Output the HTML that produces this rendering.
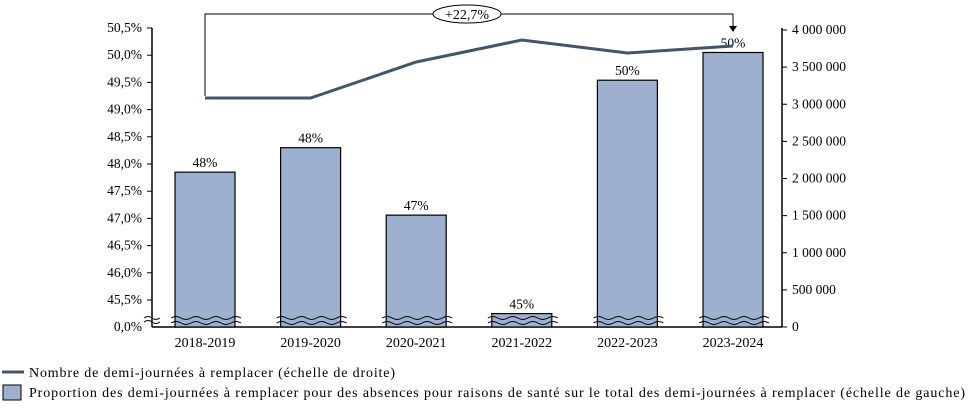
<!DOCTYPE html>
<html><head><meta charset="utf-8"><style>
body{margin:0;background:#fff;width:977px;height:412px;overflow:hidden;font-family:"Liberation Serif",serif;}
svg text{font-family:"Liberation Serif",serif;fill:#000;}
</style></head><body>
<svg id="chart" width="977" height="412" viewBox="0 0 977 412" xmlns="http://www.w3.org/2000/svg">
<g id="g"></g>
</svg>
<script>
const categories=["2018-2019","2019-2020","2020-2021","2021-2022","2022-2023","2023-2024"];
const proportionValues=[47.85,48.3,47.06,45.25,49.54,50.05];
const proportionLabels=["48%","48%","47%","45%","50%","50%"];
const halfDays=[3084000,3084000,3569000,3865000,3690000,3785000];
const leftTicks=[45.5,46,46.5,47,47.5,48,48.5,49,49.5,50,50.5];
const leftTickLabels=["45,5%","46,0%","46,5%","47,0%","47,5%","48,0%","48,5%","49,0%","49,5%","50,0%","50,5%"];
const rightTicks=[0,500000,1000000,1500000,2000000,2500000,3000000,3500000,4000000];
const rightTickLabels=["0","500 000","1 000 000","1 500 000","2 000 000","2 500 000","3 000 000","3 500 000","4 000 000"];
const changeLabel="+22,7%";

const NS="http://www.w3.org/2000/svg";
const g=document.getElementById('g');
function el(t,a,txt){const e=document.createElementNS(NS,t);for(const k in a)e.setAttribute(k,a[k]);if(txt!==undefined)e.textContent=txt;g.appendChild(e);return e;}
const L=152,R=782,Y0=327;
function yL(v){ if(v>=45.5) return 300-(v-45.5)/0.5*27.2; if(v>=45) return 300+(45.5-v)/0.5*27.2; return Y0;}
function yR(v){return Y0-v/4000000*297;}
function xC(i){return 205+i*105.6;}

let a=el('line',{x1:L,y1:28,x2:L,y2:Y0,stroke:'#000','stroke-width':1.5});

a=el('line',{x1:R,y1:28,x2:R,y2:Y0,stroke:'#000','stroke-width':1.5});

a=el('line',{x1:L,y1:Y0,x2:R,y2:Y0,stroke:'#000','stroke-width':1.5});


leftTicks.forEach((v,i)=>{const y=yL(v);
 el('line',{x1:L-5,y1:y,x2:L,y2:y,stroke:'#000'});
 const t=el('text',{x:L-10,y:y+4,'text-anchor':'end','font-size':13.5},leftTickLabels[i]);
 });
{const t=el('text',{x:L-10,y:Y0+4,'text-anchor':'end','font-size':13.5},"0,0%");
 
 el('path',{d:`M${L-8},${Y0-5} q4,-3 8,0 t8,0 M${L-8},${Y0-9} q4,-3 8,0 t8,0`,stroke:'#000',fill:'none'});}
rightTicks.forEach((v,i)=>{const y=yR(v);
 el('line',{x1:R,y1:y,x2:R+5,y2:y,stroke:'#000'});
 const t=el('text',{x:R+10,y:y+4,'text-anchor':'start','font-size':13.5},rightTickLabels[i]);
 });

categories.forEach((c,i)=>{const x=xC(i),y=yL(proportionValues[i]);
 const b=el('rect',{x:x-30,y:y,width:60,height:Y0-y,fill:'#9db0cf',stroke:'#000','stroke-width':1.2});
 
 el('path',{d:`M${x-34},318 q5,-3 10,0 t10,0 t10,0 t10,0 t10,0 t10,0 t10,0 M${x-34},323 q5,-3 10,0 t10,0 t10,0 t10,0 t10,0 t10,0 t10,0`,stroke:'#000',fill:'none','stroke-width':1});
 const t=el('text',{x:x,y:y-5,'text-anchor':'middle','font-size':13.5},proportionLabels[i]);
 
 const xl=el('text',{x:x,y:347,'text-anchor':'middle','font-size':14},c);
 });

const pts=halfDays.map((v,i)=>xC(i)+','+yR(v)).join(' ');
const ln=el('polyline',{points:pts,fill:'none',stroke:'#44546a','stroke-width':3});


const y1=yR(halfDays[0]),x1=xC(0),x2=xC(5);
const br=el('path',{d:`M${x1},${y1-2} V14 H${x2} V27`,fill:'none',stroke:'#000','stroke-width':1});

el('path',{d:`M${x2-4},26 L${x2+4},26 L${x2},32 Z`,fill:'#000'});
el('ellipse',{cx:467,cy:14,rx:34,ry:9,fill:'#fff',stroke:'#000'});
const cl=el('text',{x:467,y:19,'text-anchor':'middle','font-size':14},changeLabel);


let lg=el('line',{x1:2,y1:372,x2:24,y2:372,stroke:'#44546a','stroke-width':3});

lg=el('text',{x:29,y:377,'font-size':14,textLength:366,lengthAdjust:'spacing'},"Nombre de demi-journées à remplacer (échelle de droite)");

lg=el('rect',{x:3,y:385,width:18,height:15,fill:'#9db0cf',stroke:'#000'});

lg=el('text',{x:29,y:397,'font-size':14,textLength:936,lengthAdjust:'spacing'},"Proportion des demi-journées à remplacer pour des absences pour raisons de santé sur le total des demi-journées à remplacer (échelle de gauche)");

</script>
</body></html>
